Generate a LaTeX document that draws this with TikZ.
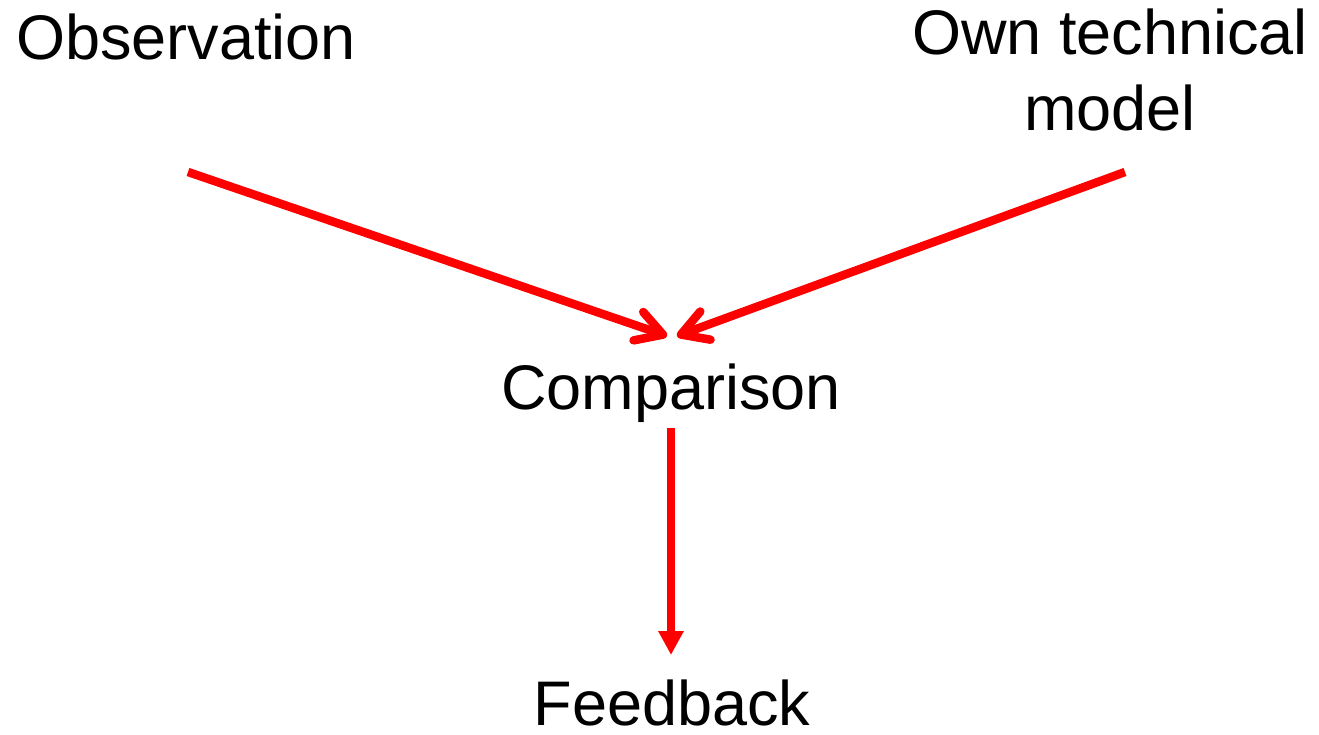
\documentclass[tikz,border=0pt]{standalone}
\usepackage{fontspec}
\setmainfont{Liberation Sans}
\usetikzlibrary{arrows.meta}
\begin{document}
\begin{tikzpicture}[x=1pt,y=-1pt,
  lbl/.style={font=\fontsize{63}{76}\selectfont, inner sep=0pt, anchor=base, align=center},
  conn/.style={draw=red, line width=8.5pt},
  openhead/.style={-{Straight Barb[length=26pt,width=30pt,line cap=round,line join=round]}},
  fillhead/.style={-{Triangle[length=24pt,width=24pt]}}]
\useasboundingbox (0,0) rectangle (1319,735);
\node[lbl] (obs) at (186,60) {Observation};
\node[lbl] (own) at (1110,131) {Own technical\\model};
\node[lbl] (cmp) at (671,409) {Comparison};
\node[lbl] (fb) at (672,725) {Feedback};
\coordinate (obsout) at (188,172);
\coordinate (ownout) at (1125,172);
\coordinate (cmpinL) at (667,336);
\coordinate (cmpinR) at (677,336);
\coordinate (cmpout) at (671,428);
\coordinate (fbin) at (671,655);
\draw[conn, openhead] (obsout) -- (cmpinL);
\draw[conn, openhead] (ownout) -- (cmpinR);
\draw[conn, line width=8pt, fillhead] (cmpout) -- (fbin);
\end{tikzpicture}
\end{document}
